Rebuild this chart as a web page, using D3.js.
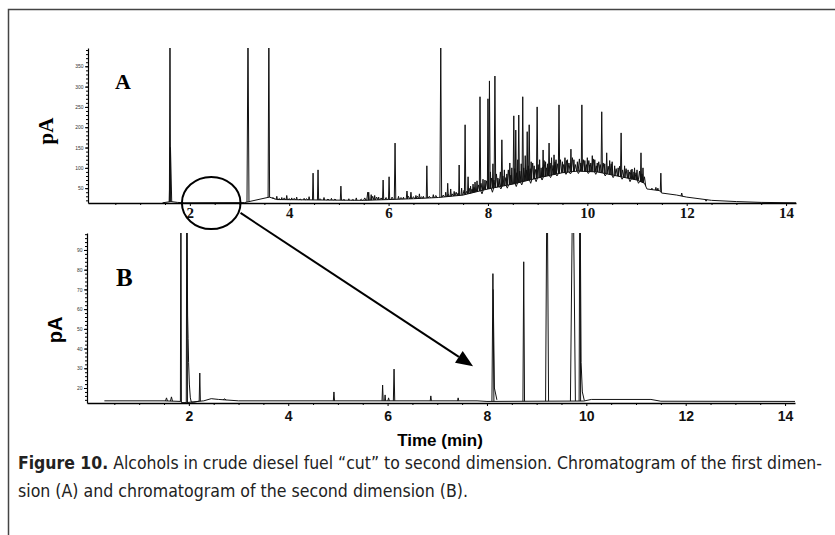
<!DOCTYPE html>
<meta charset="utf-8">
<style>
body { margin: 0; background: #fff; }
svg { display: block; }
.trace { fill: none; stroke: #111; stroke-width: 1; }
.axis line, .axis path { stroke: #000; }
.ytick { font: 5px "Liberation Sans", sans-serif; fill: #333; }
.caption { font-family: "Liberation Sans Narrow", "DejaVu Sans Condensed", sans-serif; font-size: 17px; fill: #222; }
</style>
<body>
<script src="https://d3js.org/d3.v7.min.js"></script>
<script>
// time ticks shared by both panels (min)
var xTicks = [2, 4, 6, 8, 10, 12, 14];
var yTicksA = [50, 100, 150, 200, 250, 300, 350];
var yTicksB = [20, 30, 40, 50, 60, 70, 80, 90];

// panel A: baseline / hump of the unresolved envelope [time, pA]
var humpA = [[1.45, 14], [1.62, 17], [1.75, 15], [1.9, 14], [3.1, 14.5], [3.6, 28], [3.75, 22],
  [4.5, 21], [5.5, 20], [6.0, 22], [6.5, 24], [7.0, 27], [7.5, 33], [7.8, 42], [8.0, 48],
  [8.5, 60], [9.0, 75], [9.5, 88], [9.8, 92], [10.2, 90], [10.6, 80], [11.0, 70], [11.15, 62],
  [11.2, 48], [11.45, 44], [11.5, 38], [11.8, 33], [12.0, 28], [12.5, 20], [13.0, 17], [13.5, 15], [14.2, 14]];

// panel A: resolved peaks [time, top pA, half width min]
var peaksA = [[1.60, 450, 0.012], [1.61, 150, 0.025], [3.17, 450, 0.02], [3.59, 450, 0.015],
  [4.48, 87, 0.012], [4.58, 95, 0.012], [5.04, 55, 0.012], [5.58, 40, 0.02], [5.89, 70, 0.012],
  [6.01, 78, 0.012], [6.13, 161, 0.015], [6.37, 43, 0.015], [6.77, 105, 0.012], [7.05, 395, 0.018],
  [7.19, 62, 0.012], [7.42, 107, 0.01], [7.54, 206, 0.014], [7.60, 78, 0.012], [7.74, 65, 0.012],
  [7.84, 275, 0.014], [7.94, 70, 0.012], [8.00, 270, 0.012], [8.03, 314, 0.014], [8.14, 326, 0.016],
  [8.28, 169, 0.014], [8.44, 112, 0.012], [8.52, 228, 0.014], [8.56, 193, 0.012], [8.62, 230, 0.014],
  [8.70, 275, 0.014], [8.79, 189, 0.012], [8.83, 206, 0.014], [8.99, 250, 0.014], [9.11, 144, 0.012],
  [9.23, 161, 0.014], [9.33, 132, 0.012], [9.43, 255, 0.014], [9.67, 146, 0.012], [9.89, 255, 0.012],
  [10.05, 107, 0.012], [10.29, 238, 0.014], [10.39, 137, 0.012], [10.68, 186, 0.014], [10.90, 97, 0.012],
  [10.94, 90, 0.012], [11.08, 137, 0.012], [11.48, 87, 0.012], [11.90, 38, 0.014], [12.39, 18, 0.02]];

// panel A: small peaks in the crowded envelope [time, top pA]
var minorA = [[3.75, 30], [3.85, 27], [3.95, 32], [4.05, 26], [4.15, 28], [4.3, 25], [4.4, 29],
  [4.7, 27], [4.85, 25], [5.2, 24], [5.35, 26], [5.6, 40], [5.65, 34], [5.72, 32], [5.8, 28],
  [6.2, 30], [6.3, 28], [6.45, 40], [6.55, 32], [6.62, 36], [6.7, 30], [6.9, 34], [7.15, 40],
  [7.25, 48], [7.32, 42], [7.47, 50], [7.65, 55], [7.7, 60], [7.78, 68], [7.9, 72], [8.05, 90],
  [8.1, 110], [8.2, 75], [8.33, 95], [8.38, 85], [8.48, 100], [8.6, 120], [8.67, 110], [8.75, 130],
  [8.87, 115], [8.93, 105], [9.04, 120], [9.07, 100], [9.16, 115], [9.2, 110], [9.28, 125],
  [9.37, 120], [9.5, 115], [9.55, 125], [9.6, 120], [9.73, 120], [9.8, 115], [9.95, 118],
  [10.0, 125], [10.1, 130], [10.15, 120], [10.2, 112], [10.35, 110], [10.45, 118], [10.5, 115],
  [10.55, 105], [10.62, 100], [10.75, 105], [10.82, 95], [10.95, 100], [11.0, 95], [11.12, 100],
  [11.3, 50], [11.38, 52], [11.42, 50]];

// panel A: the ragged noise riding on the envelope, incl. dips below it [time, pA]
var noiseA = [[3.68, 26], [3.8, 24], [3.9, 26], [4.0, 24], [4.1, 25], [4.22, 23], [4.35, 24],
  [4.62, 24], [4.78, 23], [4.92, 23], [5.1, 22], [5.28, 22], [5.45, 23], [5.52, 26], [5.68, 30],
  [5.76, 28], [5.85, 26], [5.95, 27], [6.07, 28], [6.25, 27], [6.4, 30], [6.5, 29], [6.58, 30],
  [6.66, 29], [6.82, 30], [6.95, 32], [7.1, 33], [7.2, 35], [7.28, 36], [7.36, 40], [7.4, 38],
  [7.52, 45], [7.57, 42], [7.62, 50], [7.68, 48], [7.72, 52], [7.81, 58], [7.86, 62], [7.97, 68],
  [8.07, 75], [8.12, 70], [8.17, 85], [8.23, 72], [8.25, 90], [8.3, 80], [8.36, 76], [8.41, 95],
  [8.46, 82], [8.54, 98], [8.58, 88], [8.64, 92], [8.72, 100], [8.77, 95], [8.81, 105], [8.85, 98],
  [8.9, 112], [8.96, 96], [9.01, 108], [9.1, 102], [9.13, 118], [9.18, 100], [9.25, 112], [9.31, 106],
  [9.35, 115], [9.4, 110], [9.46, 120], [9.52, 108], [9.58, 118], [9.63, 112], [9.7, 125], [9.76, 108],
  [9.84, 122], [9.87, 112], [9.92, 120], [9.98, 108], [10.03, 118], [10.07, 112], [10.12, 122],
  [10.18, 105], [10.23, 115], [10.26, 108], [10.32, 112], [10.42, 104], [10.48, 110], [10.58, 98],
  [10.65, 104], [10.71, 95], [10.78, 98], [10.85, 90], [10.88, 95], [10.98, 88], [11.05, 92],
  [11.1, 85], [11.15, 78],
  [7.88, 36], [8.09, 40], [8.26, 48], [8.39, 50], [8.57, 54], [8.68, 58], [8.86, 62], [8.97, 66],
  [9.09, 70], [9.26, 76], [9.39, 80], [9.57, 84], [9.66, 85], [9.82, 86], [10.02, 86], [10.17, 84],
  [10.36, 80], [10.52, 76], [10.7, 72], [10.86, 66], [11.03, 62]];

// panel B: baseline [time, pA]
var humpB = [[0.3, 13.5], [1.5, 13.5], [1.83, 13.2], [1.86, 12.6], [1.95, 12.6], [2.3, 13.5],
  [2.45, 14.6], [2.6, 14.2], [3.0, 13.5], [7.8, 13.5], [8.0, 13.2], [9.95, 13.4], [10.1, 14.2],
  [11.3, 14.2], [11.5, 13.3], [14.2, 13.2]];

// panel B: peaks [time, top pA, half width min]
var peaksB = [[1.55, 15, 0.02], [1.65, 15.5, 0.02], [1.84, 140, 0.01], [1.96, 140, 0.012],
  [2.22, 27.6, 0.012], [2.72, 14.5, 0.03], [4.92, 18, 0.012], [5.90, 21.5, 0.012], [5.95, 16.5, 0.01],
  [6.02, 15, 0.015], [6.13, 29.6, 0.014], [6.87, 16, 0.012], [7.42, 15, 0.012], [8.12, 78, 0.02],
  [8.74, 84, 0.016], [9.21, 140, 0.03], [9.73, 140, 0.05], [9.87, 140, 0.015]];

// panel B: tails after the solvent peak and the alcohols [time, pA]
var tailB1 = [[1.965, 99], [1.975, 57], [1.985, 45], [1.995, 33], [2.01, 22], [2.03, 15], [2.05, 12.8], [2.1, 12.8], [2.2, 13.3]];
var tailB2 = [[8.125, 70], [8.15, 20], [8.2, 14]];
var tailB3 = [[9.88, 99], [9.895, 33], [9.92, 18], [9.96, 13.6]];

var svg = d3.select("body").append("svg").attr("width", 835).attr("height", 535);

// page frame
svg.append("path").attr("d", "M8.5,535V9.5H835").attr("fill", "none")
  .attr("stroke", "#444").attr("stroke-width", 1.5);

function panel(o) {
  var g = svg.append("g");
  var x = o.x, y = o.y;
  var base = d3.scaleLinear().domain(o.hump.map(function(d) { return d[0]; }))
    .range(o.hump.map(function(d) { return d[1]; })).clamp(true);
  var line = d3.line().x(function(d) { return x(d[0]); }).y(function(d) { return y(d[1]); });

  g.append("clipPath").attr("id", o.id).append("rect")
    .attr("x", x.range()[0]).attr("y", y.range()[1])
    .attr("width", x.range()[1] - x.range()[0]).attr("height", y.range()[0] - y.range()[1] + 1);

  var plot = g.append("g").attr("clip-path", "url(#" + o.id + ")");
  plot.append("path").attr("class", "trace").attr("d", line(o.hump));
  o.peaks.forEach(function(p) {
    var w = p[2] || 0.012;
    plot.append("path").attr("class", "trace")
      .attr("d", line([[p[0] - w, base(p[0] - w)], [p[0], p[1]], [p[0] + w, base(p[0] + w)]]));
  });
  (o.noise || []).forEach(function(p) {
    plot.append("path").attr("class", "trace")
      .attr("d", line([[p[0] - 0.025, base(p[0] - 0.025)], [p[0], p[1]], [p[0] + 0.025, base(p[0] + 0.025)]]));
  });
  (o.tails || []).forEach(function(t) {
    plot.append("path").attr("class", "trace").attr("d", line(t));
  });

  // x axis
  var bottom = y.range()[0];
  var minor = d3.range(0.5, 14.1, 0.5).filter(function(t) { return t % 2 !== 0; });
  g.append("g").attr("class", "axis").attr("transform", "translate(0," + bottom + ")")
    .call(d3.axisBottom(x).tickValues(minor).tickSize(2).tickFormat("").tickSizeOuter(0))
    .select(".domain").attr("stroke-width", 1.4);
  var xa = g.append("g").attr("class", "axis").attr("transform", "translate(0," + bottom + ")")
    .call(d3.axisBottom(x).tickValues(xTicks).tickSize(3).tickPadding(o.xPad).tickSizeOuter(0));
  xa.select(".domain").remove();
  xa.selectAll("text").attr("font-family", o.xFont).attr("font-weight", "bold")
    .attr("font-size", o.xSize).attr("fill", "#111");

  // y axis
  var left = x.range()[0];
  g.append("g").attr("class", "axis").attr("transform", "translate(" + left + ",0)")
    .call(d3.axisLeft(y).tickValues(o.yMinor).tickSize(2).tickFormat("").tickSizeOuter(0))
    .select(".domain").attr("stroke-width", 1.2);
  var ya = g.append("g").attr("class", "axis").attr("transform", "translate(" + left + ",0)")
    .call(d3.axisLeft(y).tickValues(o.yTicks).tickSize(3).tickPadding(1.5));
  ya.select(".domain").remove();
  ya.selectAll("text").attr("class", "ytick");
  return g;
}

var xA = d3.scaleLinear().domain([-0.05, 14.2]).range([88, 796]);
var yA = d3.scaleLinear().domain([13.5, 395]).range([203, 48]);
var xB = d3.scaleLinear().domain([-0.05, 14.2]).range([87, 795]);
var yB = d3.scaleLinear().domain([12.4, 98.6]).range([403, 233]);

var gA = panel({id: "clipA", x: xA, y: yA, hump: humpA, peaks: peaksA.concat(minorA), noise: noiseA,
  yTicks: yTicksA, yMinor: d3.range(20, 391, 10), xFont: "Liberation Serif, serif", xSize: 15, xPad: 1});
var gB = panel({id: "clipB", x: xB, y: yB, hump: humpB, peaks: peaksB, tails: [tailB1, tailB2, tailB3],
  yTicks: yTicksB, yMinor: d3.range(14, 99, 2), xFont: "Liberation Sans, sans-serif", xSize: 14, xPad: 5});

// panel letters and y titles
svg.append("text").attr("x", 115).attr("y", 89).text("A")
  .attr("font-family", "Liberation Serif, serif").attr("font-weight", "bold").attr("font-size", 22);
svg.append("text").attr("x", 116).attr("y", 286).text("B")
  .attr("font-family", "Liberation Serif, serif").attr("font-weight", "bold").attr("font-size", 25);
svg.append("text").attr("transform", "translate(53,131) rotate(-90)").attr("text-anchor", "middle")
  .text("pA").attr("font-family", "Liberation Serif, serif").attr("font-weight", "bold").attr("font-size", 21);
svg.append("text").attr("transform", "translate(62,330) rotate(-90)").attr("text-anchor", "middle")
  .text("pA").attr("font-family", "Liberation Sans, sans-serif").attr("font-weight", "bold").attr("font-size", 20);
svg.append("text").attr("x", 440).attr("y", 446).attr("text-anchor", "middle").text("Time (min)")
  .attr("font-family", "Liberation Sans, sans-serif").attr("font-weight", "bold").attr("font-size", 17);

// the "cut" window in A and the arrow to B
var cut = {t: 2.43, v: 13.5, rt: 0.59, rv: 64};
svg.append("ellipse").attr("cx", xA(cut.t)).attr("cy", yA(cut.v))
  .attr("rx", xA(cut.t + cut.rt) - xA(cut.t)).attr("ry", yA(cut.v) - yA(cut.v + cut.rv))
  .attr("fill", "none").attr("stroke", "#000").attr("stroke-width", 2);
var p0 = [xA(3.02), yA(-11)], p1 = [xB(7.72), yB(31)];
var ang = Math.atan2(p1[1] - p0[1], p1[0] - p0[0]), hl = 17, hw = 7;
var bx = p1[0] - hl * Math.cos(ang), by = p1[1] - hl * Math.sin(ang);
svg.append("line").attr("x1", p0[0]).attr("y1", p0[1]).attr("x2", bx).attr("y2", by)
  .attr("stroke", "#000").attr("stroke-width", 2);
svg.append("path").attr("fill", "#000").attr("d", "M" + p1 + "L" +
  [bx + hw * Math.sin(ang), by - hw * Math.cos(ang)] + "L" + [bx - hw * Math.sin(ang), by + hw * Math.cos(ang)] + "Z");

// caption
var c1 = svg.append("text").attr("class", "caption").attr("x", 18).attr("y", 469)
  .attr("textLength", 804).attr("lengthAdjust", "spacingAndGlyphs");
c1.append("tspan").attr("font-weight", "bold").text("Figure 10.");
c1.append("tspan").text(" Alcohols in crude diesel fuel \u201ccut\u201d to second dimension. Chromatogram of the first dimen-");
svg.append("text").attr("class", "caption").attr("x", 18).attr("y", 497)
  .attr("textLength", 450).attr("lengthAdjust", "spacingAndGlyphs")
  .text("sion (A) and chromatogram of the second dimension (B).");
</script>
